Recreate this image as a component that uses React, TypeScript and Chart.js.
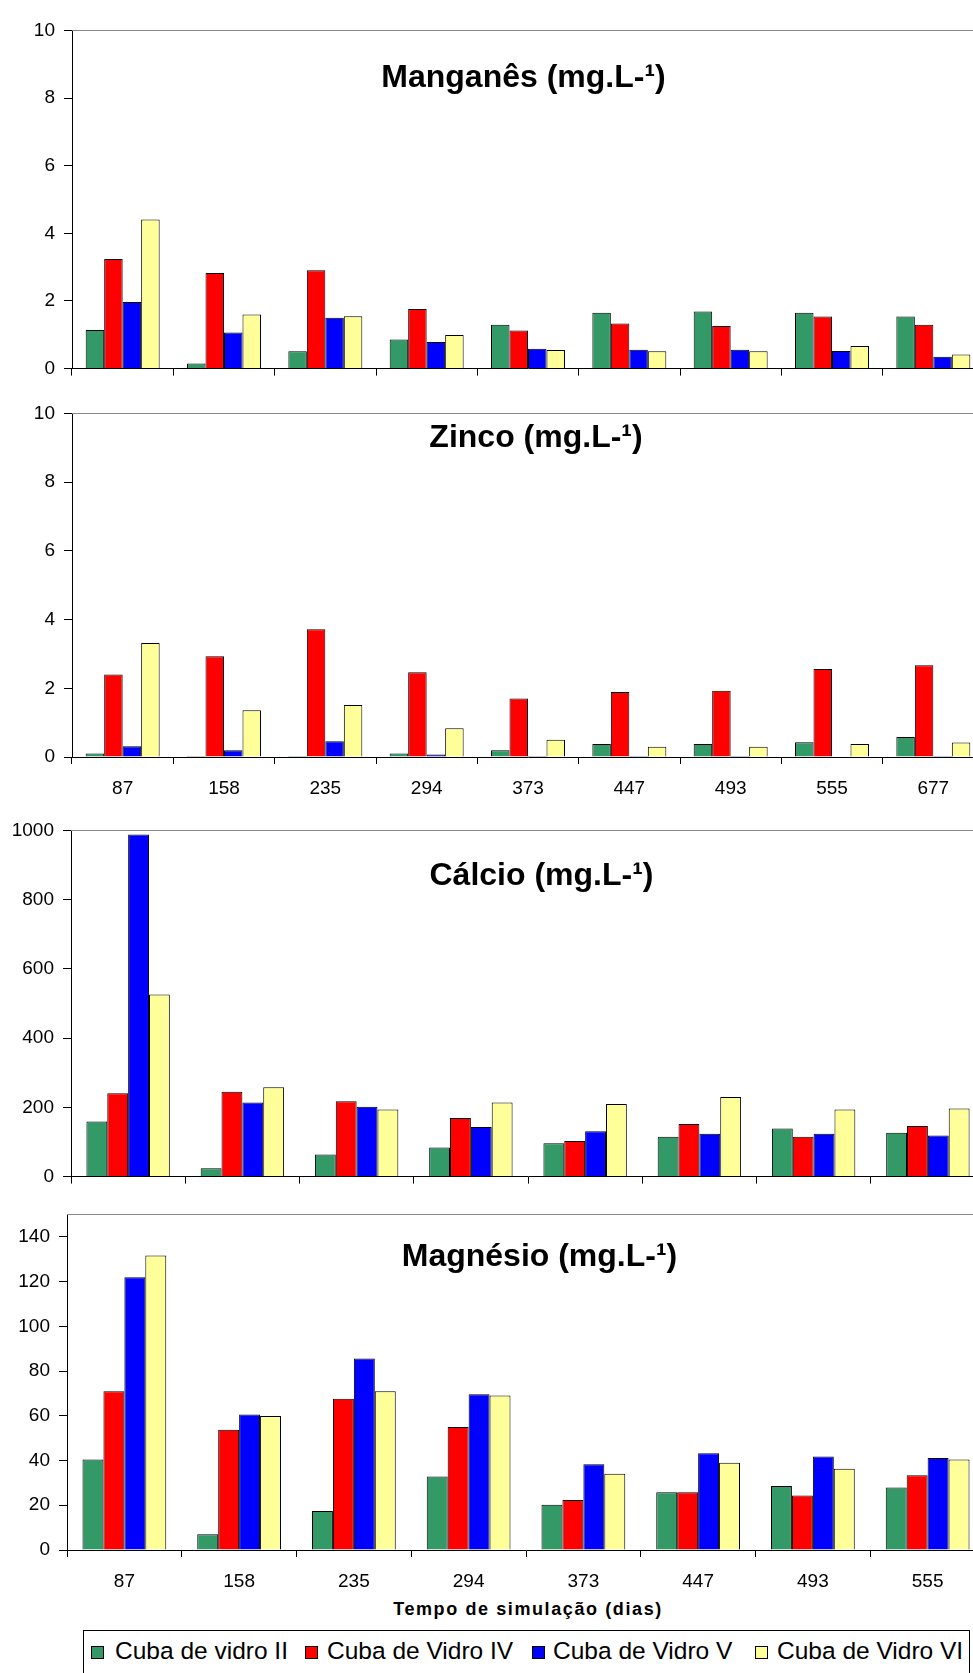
import React, { useEffect, useRef } from "react";
import { Chart, registerables } from "chart.js";

Chart.register(...registerables);

// ---------- data ----------
const seriesNames = ["Cuba de vidro II", "Cuba de Vidro IV", "Cuba de Vidro V", "Cuba de Vidro VI"];
const seriesColors = ["#339966", "#FF0000", "#0000FF", "#FFFF99"];

const daysUpper = ["87", "158", "235", "294", "373", "447", "493", "555", "677"];
const daysLower = ["87", "158", "235", "294", "373", "447", "493", "555"];

const mnII = [1.14, 0.15, 0.51, 0.86, 1.3, 1.65, 1.69, 1.65, 1.54];
const mnIV = [3.24, 2.83, 2.91, 1.76, 1.13, 1.33, 1.26, 1.54, 1.3];
const mnV = [1.97, 1.07, 1.5, 0.79, 0.59, 0.56, 0.56, 0.52, 0.35];
const mnVI = [4.41, 1.6, 1.55, 0.99, 0.55, 0.51, 0.51, 0.67, 0.42];

const znII = [0.1, 0.03, 0.03, 0.1, 0.2, 0.38, 0.38, 0.43, 0.58];
const znIV = [2.4, 2.93, 3.72, 2.47, 1.7, 1.89, 1.93, 2.56, 2.67];
const znV = [0.31, 0.2, 0.46, 0.07, 0.03, 0.03, 0.03, 0.0, 0.03];
const znVI = [3.32, 1.36, 1.51, 0.84, 0.5, 0.3, 0.3, 0.38, 0.42];

const caII = [159, 24, 64, 84, 96, 115, 139, 127];
const caIV = [241, 245, 218, 169, 103, 152, 115, 146];
const caV = [988, 214, 202, 143, 131, 124, 124, 119];
const caVI = [526, 258, 194, 214, 210, 230, 194, 197];

const mgII = [40.5, 7, 17.4, 32.8, 20.2, 25.8, 28.6, 27.9];
const mgIV = [71, 53.7, 67.6, 55, 22.3, 25.8, 24.4, 33.4];
const mgV = [121.9, 60.6, 85.6, 69.6, 38.3, 43.2, 41.8, 41.1];
const mgVI = [131.6, 59.9, 71, 69, 34.1, 39, 36.3, 40.5];

const yTicksUpper = { max: 10, step: 2, lastTick: 10 };
const yTicksCa = { max: 1000, step: 200, lastTick: 1000 };
const yTicksMg = { max: 150, step: 20, lastTick: 140 };

const axisTitle = "Tempo de simulação (dias)";

// ---------- layout ----------
const FONT = '"Liberation Sans", Arial, Helvetica, sans-serif';
const CW = 1000;
const PAD_TOP = 12;
const TICK_FONT = 19;

const panels = [
  { title: "Manganês (mg.L-¹)", labels: daysUpper, values: [mnII, mnIV, mnV, mnVI], y: yTicksUpper,
    top: 22, zero: 369, left: 72, right: 984, showX: false, xH: 20, cx: 523.5, base: 87 },
  { title: "Zinco (mg.L-¹)", labels: daysUpper, values: [znII, znIV, znV, znVI], y: yTicksUpper,
    top: 405, zero: 757, left: 72, right: 984, showX: true, xH: 46, cx: 536, base: 447 },
  { title: "Cálcio (mg.L-¹)", labels: daysLower, values: [caII, caIV, caV, caVI], y: yTicksCa,
    top: 822, zero: 1177, left: 71, right: 985, showX: false, xH: 20, cx: 541.5, base: 885 },
  { title: "Magnésio (mg.L-¹)", labels: daysLower, values: [mgII, mgIV, mgV, mgVI], y: yTicksMg,
    top: 1206, zero: 1550, left: 67, right: 985, showX: true, xH: 46, cx: 539.5, base: 1266 },
];

const legendSquareX = [91, 305, 532, 755];
const legendTextX = [115, 327, 553, 777];

const topBorderPlugin = {
  id: "topBorder",
  afterDraw(chart: any) {
    const { ctx, chartArea } = chart;
    ctx.save();
    ctx.strokeStyle = "#888888";
    ctx.lineWidth = 1;
    ctx.beginPath();
    ctx.moveTo(chartArea.left, Math.round(chartArea.top) + 0.5);
    ctx.lineTo(chartArea.right, Math.round(chartArea.top) + 0.5);
    ctx.stroke();
    ctx.restore();
  },
};

function BarPanel({ p }: { p: any }) {
  const ref = useRef<HTMLCanvasElement | null>(null);
  const h = PAD_TOP + (p.zero - p.top) + p.xH;
  useEffect(() => {
    if (!ref.current) return;
    const chart = new Chart(ref.current, {
      type: "bar",
      data: {
        labels: p.labels,
        datasets: p.values.map((v: number[], i: number) => ({
          label: seriesNames[i],
          data: v,
          backgroundColor: seriesColors[i],
          borderColor: "#000000",
          borderWidth: 1,
          categoryPercentage: 0.73,
          barPercentage: 1,
        })),
      },
      options: {
        responsive: false,
        animation: false,
        devicePixelRatio: 1,
        layout: { padding: { top: PAD_TOP, left: 0, right: CW - p.right, bottom: 0 } },
        plugins: {
          legend: { display: false },
          tooltip: { enabled: false },
          title: { display: false },
        },
        scales: {
          x: {
            type: "category",
            offset: true,
            grid: {
              display: true,
              offset: true,
              drawOnChartArea: false,
              drawTicks: true,
              tickLength: 7,
              color: "#000000",
              lineWidth: 1,
            },
            border: { display: true, color: "#000000", width: 1 },
            ticks: {
              display: p.showX,
              color: "#000000",
              font: { family: FONT, size: TICK_FONT },
              padding: 13,
              maxRotation: 0,
              autoSkip: false,
            },
            afterFit: (s: any) => {
              s.height = p.xH;
            },
          },
          y: {
            min: 0,
            max: p.y.max,
            grid: {
              display: true,
              drawOnChartArea: false,
              drawTicks: true,
              tickLength: 8,
              color: "#000000",
              lineWidth: 1,
            },
            border: { display: true, color: "#000000", width: 1 },
            ticks: {
              stepSize: p.y.step,
              color: "#000000",
              font: { family: FONT, size: TICK_FONT },
              padding: 9,
              callback: (v: any) => String(v),
            },
            afterBuildTicks: (s: any) => {
              s.ticks = s.ticks.filter((t: any) => t.value <= p.y.lastTick);
            },
            afterFit: (s: any) => {
              s.width = p.left;
            },
          },
        },
      } as any,
      plugins: [topBorderPlugin],
    });
    return () => chart.destroy();
  }, []);
  return (
    <canvas
      ref={ref}
      width={CW}
      height={h}
      style={{ position: "absolute", left: 0, top: p.top - PAD_TOP, width: CW, height: h }}
    />
  );
}

export default function App() {
  return (
    <div
      style={{
        position: "absolute",
        left: 0,
        top: 0,
        width: 973,
        height: 1673,
        overflow: "hidden",
        background: "#ffffff",
        fontFamily: FONT,
        color: "#000",
      }}
    >
      {panels.map((p, i) => (
        <BarPanel key={i} p={p} />
      ))}
      {panels.map((p, i) => (
        <div
          key={"t" + i}
          style={{
            position: "absolute",
            left: p.cx - 300,
            width: 600,
            top: p.base - 27,
            textAlign: "center",
            fontSize: 32,
            fontWeight: "bold",
            lineHeight: "32px",
            whiteSpace: "nowrap",
          }}
        >
          {p.title}
        </div>
      ))}
      <div
        style={{
          position: "absolute",
          left: 528 - 300,
          width: 600,
          top: 1600,
          textAlign: "center",
          fontSize: 18,
          fontWeight: "bold",
          lineHeight: "18px",
          letterSpacing: "1.6px",
          whiteSpace: "nowrap",
        }}
      >
        {axisTitle}
      </div>
      <div
        style={{
          position: "absolute",
          left: 83,
          top: 1630,
          width: 887,
          height: 70,
          border: "1px solid #000",
          boxSizing: "border-box",
        }}
      />
      {seriesNames.map((name, i) => (
        <React.Fragment key={"l" + i}>
          <div
            style={{
              position: "absolute",
              left: legendSquareX[i],
              top: 1646,
              width: 13,
              height: 13,
              boxSizing: "border-box",
              border: "1px solid #000",
              background: seriesColors[i],
            }}
          />
          <div
            style={{
              position: "absolute",
              left: legendTextX[i],
              top: 1639,
              fontSize: 24.5,
              lineHeight: "24.5px",
              whiteSpace: "nowrap",
            }}
          >
            {name}
          </div>
        </React.Fragment>
      ))}
    </div>
  );
}
